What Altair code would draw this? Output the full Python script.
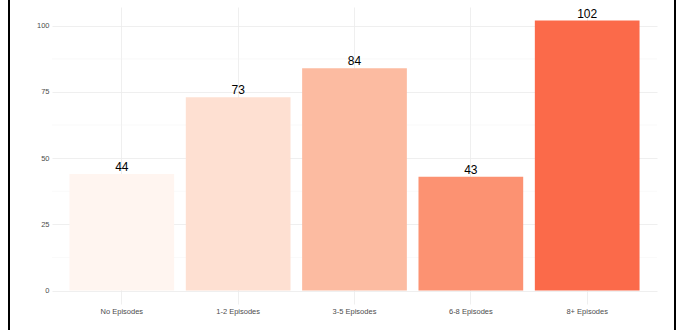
import altair as alt
import pandas as pd

categories = ["No Episodes", "1-2 Episodes", "3-5 Episodes", "6-8 Episodes", "8+ Episodes"]
counts = [44, 73, 84, 43, 102]
colors = ["#FFF5F0", "#FEE0D2", "#FCBBA1", "#FC9272", "#FB6A4A"]
y_ticks = [0, 25, 50, 75, 100]
y_minor = [12.5, 37.5, 62.5, 87.5]

df = pd.DataFrame({"cat": categories, "n": counts})
minor_df = pd.DataFrame({"v": y_minor})

W, H = 605, 297
ydom = [-5.1, 107.1]

xenc = alt.X("cat:N", sort=categories, title=None,
             scale=alt.Scale(paddingInner=0.1, paddingOuter=0.15),
             axis=alt.Axis(labelAngle=0, labelFontSize=7.5, labelColor="#4D4D4D",
                           labelFont="Liberation Sans", ticks=False, domain=False,
                           grid=True, gridColor="#EBEBEB", gridWidth=0.8, labelPadding=3))
yscale = alt.Scale(domain=ydom, nice=False, zero=False)

minor = alt.Chart(minor_df).mark_rule(color="#F3F3F3", strokeWidth=0.5).encode(
    y=alt.Y("v:Q", scale=yscale)
)

bars = alt.Chart(df).mark_bar().encode(
    x=xenc,
    y=alt.Y("n:Q", scale=yscale, title=None,
            axis=alt.Axis(values=y_ticks, labelFontSize=7.5, labelColor="#4D4D4D",
                          labelFont="Liberation Sans", ticks=False, domain=False,
                          grid=True, gridColor="#EBEBEB", gridWidth=0.8, labelPadding=3)),
    y2=alt.datum(0),
    color=alt.Color("cat:N", sort=categories, scale=alt.Scale(domain=categories, range=colors), legend=None),
)

labels = alt.Chart(df).mark_text(baseline="alphabetic", dy=-3, fontSize=12,
                                 font="Liberation Sans", color="black").encode(
    x=alt.X("cat:N", sort=categories),
    y=alt.Y("n:Q", scale=yscale),
    text="n:Q",
)

border_l = alt.Chart(df).mark_rule(color="black", strokeWidth=2).encode(
    x=alt.value(-43), y=alt.value(-7), y2=alt.value(323)
)
border_r = alt.Chart(df).mark_rule(color="black", strokeWidth=2).encode(
    x=alt.value(623), y=alt.value(-7), y2=alt.value(323)
)

chart = alt.layer(minor, bars, labels, border_l, border_r).properties(
    width=W, height=H,
    autosize=alt.AutoSizeParams(type="none"),
    padding={"left": 52, "top": 7, "right": 26, "bottom": 26},
    background="white",
).configure_view(stroke=None)

chart.save("out.html", embed_options={"renderer": "svg", "actions": False})
